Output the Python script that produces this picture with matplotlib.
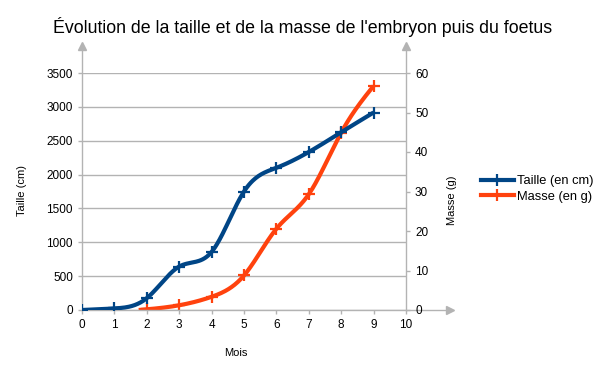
import numpy as np
import matplotlib
matplotlib.use('Agg')
import matplotlib.pyplot as plt

plt.rcParams['font.family'] = ['Liberation Sans', 'DejaVu Sans']

# donnees
mois_taille = [0, 1, 2, 3, 4, 5, 6, 7, 8, 9]
taille = [0, 0.4, 3, 11, 14.7, 30, 36, 40, 45, 50]        # cm (axe de droite)
mois_masse = [1.75, 2, 3, 4, 5, 6, 7, 8, 9]
masse = [0, 10, 70, 195, 510, 1200, 1710, 2620, 3310]      # g (axe de gauche)

bleu = '#004586'
orange = '#ff420e'
gris = '#b3b3b3'


def spline(x, y, n=300):
    # spline cubique naturelle, seulement pour lisser le trace
    x = np.asarray(x, float)
    y = np.asarray(y, float)
    h = np.diff(x)
    k = len(x)
    A = np.zeros((k, k))
    b = np.zeros(k)
    A[0, 0] = A[-1, -1] = 1
    for i in range(1, k - 1):
        A[i, i - 1] = h[i - 1]
        A[i, i] = 2 * (h[i - 1] + h[i])
        A[i, i + 1] = h[i]
        b[i] = 6 * ((y[i + 1] - y[i]) / h[i] - (y[i] - y[i - 1]) / h[i - 1])
    M = np.linalg.solve(A, b)
    xs = np.linspace(x[0], x[-1], n)
    j = np.clip(np.searchsorted(x, xs) - 1, 0, k - 2)
    t0 = x[j + 1] - xs
    t1 = xs - x[j]
    hj = h[j]
    ys = (M[j] * t0 ** 3 / (6 * hj) + M[j + 1] * t1 ** 3 / (6 * hj)
          + (y[j] / hj - M[j] * hj / 6) * t0 + (y[j + 1] / hj - M[j + 1] * hj / 6) * t1)
    return xs, ys


fig = plt.figure(figsize=(6.05, 3.73), dpi=100)
ax = fig.add_axes([82 / 605, 1 - 310 / 373, 324 / 605, 237 / 373])
ax2 = ax.twinx()

# masse (axe gauche)
xs, ys = spline(mois_masse, masse)
ax.plot(xs, ys, color=orange, lw=3, solid_capstyle='butt')
ax.plot(mois_masse[1:], masse[1:], ls='none', marker='+', ms=8, mew=1.6, color=orange)
# taille (axe droit)
xs, ys = spline(mois_taille, taille)
ax2.plot(xs, ys, color=bleu, lw=3, solid_capstyle='butt')
ax2.plot(mois_taille, taille, ls='none', marker='+', ms=8, mew=1.6, color=bleu)

ax.set_xlim(0, 10)
ax.set_ylim(0, 3500)
ax2.set_ylim(0, 60)
ax.set_xticks(range(0, 11))
ax.set_yticks(range(0, 3501, 500))
ax2.set_yticks(range(0, 61, 10))
ax.yaxis.grid(True, color=gris, lw=1)
ax.set_axisbelow(True)

for a in (ax, ax2):
    for s in a.spines.values():
        s.set_visible(False)
    a.tick_params(colors=gris, labelcolor='black', labelsize=8.5, length=3, width=1)

# axes avec fleches
tr = ax.transAxes
ax.plot([0, 0], [0, 1.11], color=gris, lw=1, transform=tr, clip_on=False)
ax.plot([1, 1], [0, 1.11], color=gris, lw=1, transform=tr, clip_on=False)
ax.plot([0, 1.13], [0, 0], color=gris, lw=1, transform=tr, clip_on=False)
ax.plot([0, 1], [1.115, 1.115], ls='none', marker='^', ms=6, color=gris, transform=tr, clip_on=False)
ax.plot([1.135], [0], ls='none', marker='>', ms=6, color=gris, transform=tr, clip_on=False)

fig.text(0.5, 1 - 27 / 373, "Évolution de la taille et de la masse de l'embryon puis du foetus",
         ha='center', va='center', fontsize=12.8)
fig.text(236 / 605, 1 - 353 / 373, 'Mois', ha='center', va='center', fontsize=8)
fig.text(22 / 605, 1 - 191 / 373, 'Taille (cm)', ha='center', va='center', rotation=90, fontsize=8)
fig.text(452 / 605, 1 - 200 / 373, 'Masse (g)', ha='center', va='center', rotation=90, fontsize=8)

h1 = plt.Line2D([], [], color=bleu, lw=3, marker='+', ms=8, mew=1.6)
h2 = plt.Line2D([], [], color=orange, lw=3, marker='+', ms=8, mew=1.6)
fig.legend([h1, h2], ['Taille (en cm)', 'Masse (en g)'], loc='center left',
           bbox_to_anchor=(469 / 605, 1 - 189 / 373), frameon=False, fontsize=9.3,
           handlelength=2.6, handletextpad=0.2, labelspacing=0.3, numpoints=1)

fig.savefig('out.png', dpi=100)
